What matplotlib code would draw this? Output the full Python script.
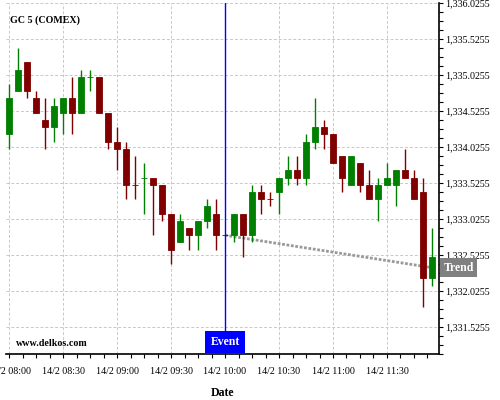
import matplotlib
matplotlib.use('Agg')
import matplotlib.pyplot as plt
from matplotlib.ticker import FuncFormatter, MultipleLocator, FixedLocator

plt.rcParams['font.family'] = ['Liberation Serif', 'DejaVu Serif']

# Velas de 5 minutos desde 14/2 08:00
opens = [1334.2, 1334.8, 1335.2, 1334.7, 1334.4, 1334.3, 1334.5, 1334.7, 1334.5, 1335.0,
         1335.0, 1334.5, 1334.1, 1334.0, 1333.5, 1333.6, 1333.6, 1333.5, 1333.1, 1332.7,
         1332.9, 1332.8, 1333.0, 1333.1, 1332.8, 1332.8, 1333.1, 1332.8, 1333.4, 1333.3,
         1333.4, 1333.6, 1333.7, 1333.6, 1334.1, 1334.3, 1334.2, 1333.9, 1333.5, 1333.8,
         1333.5, 1333.3, 1333.5, 1333.5, 1333.7, 1333.6, 1333.4, 1332.2]
highs = [1334.9, 1335.4, 1335.2, 1334.8, 1334.7, 1334.7, 1334.7, 1335.0, 1335.1, 1335.1,
         1335.0, 1334.5, 1334.3, 1334.1, 1333.9, 1333.8, 1333.6, 1333.5, 1333.1, 1333.1,
         1332.9, 1333.0, 1333.3, 1333.3, 1332.8, 1333.1, 1333.1, 1333.5, 1333.5, 1333.4,
         1333.6, 1333.9, 1333.9, 1334.2, 1334.7, 1334.4, 1334.2, 1333.9, 1333.9, 1333.8,
         1333.7, 1333.6, 1333.8, 1333.7, 1334.0, 1333.7, 1333.6, 1332.9]
lows = [1334.0, 1334.8, 1334.7, 1334.5, 1334.0, 1334.1, 1334.2, 1334.2, 1334.5, 1334.8,
        1334.5, 1334.0, 1333.7, 1333.3, 1333.3, 1333.1, 1332.8, 1333.0, 1332.4, 1332.7,
        1332.6, 1332.6, 1332.9, 1332.6, 1332.8, 1332.7, 1332.5, 1332.7, 1333.1, 1333.2,
        1333.1, 1333.5, 1333.5, 1333.5, 1334.0, 1334.0, 1333.8, 1333.4, 1333.5, 1333.4,
        1333.3, 1333.0, 1333.5, 1333.2, 1333.6, 1333.3, 1331.8, 1332.1]
closes = [1334.7, 1335.1, 1334.8, 1334.5, 1334.3, 1334.6, 1334.7, 1334.5, 1335.0, 1335.0,
          1334.5, 1334.1, 1334.0, 1333.5, 1333.5, 1333.6, 1333.5, 1333.1, 1332.6, 1333.0,
          1332.8, 1333.0, 1333.2, 1332.8, 1332.8, 1333.1, 1332.8, 1333.4, 1333.3, 1333.3,
          1333.6, 1333.7, 1333.6, 1334.1, 1334.3, 1334.2, 1333.8, 1333.6, 1333.9, 1333.5,
          1333.3, 1333.5, 1333.6, 1333.7, 1333.6, 1333.3, 1332.2, 1332.5]
# doji: True = verde, False = rojo
doji_up = {9: True, 14: False, 15: True, 24: False, 29: False}

minutos = [i * 5 for i in range(len(opens))]

etiquetas_x = ['14/2 08:00', '14/2 08:30', '14/2 09:00', '14/2 09:30',
               '14/2 10:00', '14/2 10:30', '14/2 11:00', '14/2 11:30']
pos_x = [0, 30, 60, 90, 120, 150, 180, 210]

evento_min = 120
tendencia_x = [120, 235]
tendencia_y = [1332.8, 1332.35]

verde = '#008000'
rojo = '#800000'

fig = plt.figure(figsize=(5, 4), dpi=100)
ax = fig.add_axes([6 / 500, 46 / 400, 433 / 500, 351 / 400])

# Velas
for i, t in enumerate(minutos):
    o, h, l, c = opens[i], highs[i], lows[i], closes[i]
    if o == c:
        col = verde if doji_up.get(i, False) else rojo
    else:
        col = verde if c > o else rojo
    ax.vlines(t, l, h, color=col, linewidth=1.0, zorder=3)
    ax.bar(t, c - o, bottom=o, width=3.6, color=col, edgecolor=col,
           linewidth=0.6, zorder=4)

# Línea de tendencia
ax.plot(tendencia_x, tendencia_y, color='#999999', linewidth=2.0,
        linestyle=(0, (1, 0.6)), zorder=2)

# Evento
ax.axvline(evento_min, color='#0000ff', linewidth=1.0, zorder=5)
ax.annotate('Event', xy=(evento_min, 0), xycoords=('data', 'axes fraction'),
            xytext=(0, 4.2), textcoords='offset points', ha='center', va='bottom',
            color='white', fontsize=8.5, fontweight='bold', zorder=6,
            bbox=dict(boxstyle='square,pad=0.42', fc='#0000ff', ec='none'))

ax.annotate('Trend', xy=(1.0, tendencia_y[-1]), xycoords=('axes fraction', 'data'),
            xytext=(3.2, 0), textcoords='offset points', ha='left', va='center',
            color='white', fontsize=8.5, fontweight='bold', zorder=10,
            annotation_clip=False,
            bbox=dict(boxstyle='square,pad=0.3', fc='#808080', ec='none'))

ax.text(0.009, 0.951, 'GC 5 (COMEX)', transform=ax.transAxes, fontsize=7.2,
        fontweight='bold', va='center', ha='left')
ax.text(0.022, 0.018, 'www.delkos.com', transform=ax.transAxes, fontsize=7.2,
        fontweight='bold', va='bottom', ha='left')

# Ejes
ax.set_xlim(-1.7, 238.9)
ax.set_ylim(1331.1505, 1336.0255)

ax.xaxis.set_major_locator(FixedLocator(pos_x))
ax.set_xticklabels(etiquetas_x)
ax.xaxis.set_minor_locator(MultipleLocator(7.5))

ax.yaxis.tick_right()
ax.yaxis.set_major_locator(FixedLocator([1331.5255 + 0.5 * k for k in range(10)]))
ax.yaxis.set_minor_locator(FixedLocator([1331.1505 + 0.125 * k for k in range(40)]))
ax.yaxis.set_major_formatter(FuncFormatter(lambda v, p: f'{v:,.4f}'))

ax.tick_params(axis='both', which='both', direction='out', length=3, width=0.8,
               labelsize=7.2, colors='black')
ax.tick_params(axis='y', which='major', pad=1.5)
ax.tick_params(axis='x', which='major', pad=6)

for s in ['top', 'left']:
    ax.spines[s].set_visible(False)
ax.spines['right'].set_linewidth(1.2)
ax.spines['bottom'].set_linewidth(1.2)

ax.grid(True, which='major', color='#c8c8c8', linestyle=(0, (3, 2)), linewidth=0.7)
ax.set_axisbelow(True)

ax.set_xlabel('Date', fontsize=8.5, fontweight='bold', labelpad=8)

fig.savefig('out.png', dpi=100)
